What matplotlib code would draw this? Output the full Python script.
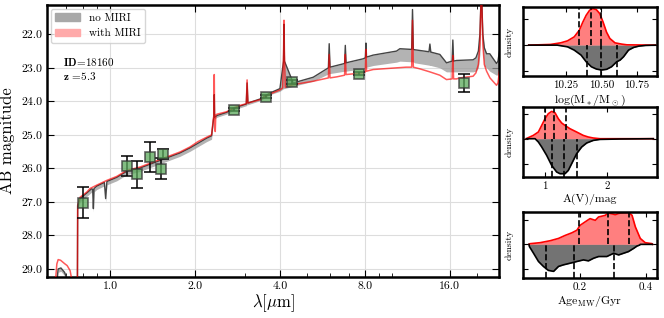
import numpy as np
import matplotlib
matplotlib.use("Agg")
import matplotlib.pyplot as plt
from matplotlib.patches import Patch
from matplotlib.ticker import (FixedLocator, FixedFormatter, FormatStrFormatter,
                               LogLocator, NullFormatter)

plt.rcParams["font.family"] = "serif"
plt.rcParams["font.serif"] = ["cmr10"]
plt.rcParams["mathtext.fontset"] = "cm"
plt.rcParams["axes.formatter.use_mathtext"] = True

# --- best-fit spectrum with MIRI (wavelength in micron, AB mag)
red_lam = [0.600, 0.640, 0.648, 0.655, 0.668, 0.690, 0.705, 0.722, 0.735, 0.766,
           0.768, 0.783, 0.829, 0.849, 0.897, 0.973, 1.056, 1.146, 1.277, 1.424,
           1.587, 1.770, 1.920, 2.050, 2.200, 2.290, 2.325, 2.335, 2.341, 2.347,
           2.360, 2.370, 2.400, 2.590, 2.730, 2.890, 3.040, 3.060, 3.080, 3.400,
           3.690, 4.000, 4.090, 4.120, 4.135, 4.150, 4.180, 4.460, 5.250, 5.940,
           5.980, 6.020, 6.350, 6.780, 6.820, 6.860, 7.890, 8.030, 8.070, 8.110,
           8.560, 10.36, 11.20, 11.72, 11.80, 11.88, 12.53, 13.59, 14.75, 15.57,
           16.30, 16.40, 16.50, 16.90, 17.36, 19.35, 19.80, 20.20, 20.45, 20.65,
           20.75, 20.95, 21.20, 21.60, 22.20, 23.42, 23.70, 24.00]
red_mag = [30.0, 29.4, 28.85, 28.72, 28.74, 28.84, 28.9, 29.05, 29.4, 30.0,
           27.1, 26.86, 26.7, 26.6, 26.5, 26.36, 26.24, 26.06, 25.96, 25.81,
           25.66, 25.51, 25.36, 25.2, 25.07, 25.0, 24.5, 24.42, 23.2, 24.42,
           24.9, 24.4, 24.38, 24.31, 24.2, 24.12, 24.07, 23.36, 24.05, 23.95,
           23.78, 23.66, 23.6, 22.6, 21.58, 22.6, 23.58, 23.5, 23.4, 23.3,
           22.6, 23.3, 23.27, 23.22, 22.6, 23.2, 23.15, 23.12, 22.45, 23.1,
           23.05, 23.0, 22.98, 22.98, 21.58, 22.98, 23.03, 23.12, 23.22, 23.35,
           23.33, 22.63, 23.33, 23.33, 23.3, 23.25, 23.15, 22.9, 22.3, 20.9,
           20.9, 22.3, 22.9, 23.1, 23.3, 23.52, 23.45, 23.1]

# --- best-fit spectrum without MIRI: median and fainter edge of the range
gray_lam = [0.600, 0.645, 0.655, 0.670, 0.690, 0.705, 0.722, 0.766, 0.768, 0.783,
            0.829, 0.860, 0.868, 0.873, 0.878, 0.897, 0.955, 0.965, 0.975, 1.056,
            1.146, 1.277, 1.424, 1.587, 1.770, 1.920, 2.200, 2.290, 2.325, 2.335,
            2.341, 2.347, 2.400, 2.590, 2.730, 2.890, 3.040, 3.060, 3.080, 3.400,
            3.690, 4.000, 4.120, 4.135, 4.150, 4.460, 5.250, 5.940, 5.980, 6.020,
            6.780, 6.820, 6.860, 7.890, 8.030, 8.070, 8.110, 8.560, 10.36, 10.64,
            11.72, 11.80, 11.88, 12.00, 13.50, 13.60, 13.70, 14.75, 15.57, 16.30,
            16.40, 16.50, 16.90, 19.35, 19.80, 20.20, 20.45, 20.65, 20.75, 20.95,
            21.20, 21.60, 22.17, 23.42, 23.70, 24.00]
gray_mag = [30.0, 29.5, 29.0, 28.97, 29.1, 29.3, 29.6, 30.0, 27.13, 26.9,
            26.73, 26.61, 26.62, 27.2, 26.6, 26.53, 26.42, 26.9, 26.39, 26.27,
            26.09, 25.99, 25.84, 25.69, 25.54, 25.39, 25.1, 25.03, 24.55, 24.47,
            23.8, 24.47, 24.42, 24.33, 24.22, 24.14, 24.08, 23.45, 24.05, 23.93,
            23.75, 23.62, 22.8, 21.7, 22.8, 23.45, 23.28, 23.0, 22.28, 22.98,
            22.87, 22.33, 22.85, 22.73, 22.7, 22.26, 22.68, 22.62, 22.5, 22.43,
            22.45, 21.26, 22.45, 22.46, 22.52, 22.29, 22.53, 22.6, 22.85, 22.8,
            22.17, 22.8, 22.78, 22.76, 22.7, 22.5, 22.0, 20.9, 20.9, 22.0,
            22.4, 22.58, 22.58, 22.87, 22.8, 22.5]
gray_lo = [30.0, 29.6, 29.1, 29.07, 29.2, 29.4, 29.7, 30.0, 27.23, 27.0,
           26.83, 26.71, 26.72, 27.3, 26.7, 26.63, 26.52, 27.0, 26.49, 26.37,
           26.19, 26.09, 25.94, 25.79, 25.64, 25.49, 25.2, 25.13, 24.6, 24.52,
           24.45, 24.52, 24.47, 24.38, 24.27, 24.19, 24.13, 24.1, 24.1, 23.98,
           23.8, 23.7, 23.62, 23.62, 23.62, 23.55, 23.4, 23.18, 23.17, 23.17,
           23.1, 23.1, 23.1, 23.02, 23.0, 23.0, 22.98, 22.93, 22.83, 22.8,
           22.82, 22.82, 22.82, 22.85, 22.92, 22.93, 22.93, 23.0, 23.12, 23.12,
           23.12, 23.12, 23.12, 23.12, 23.1, 23.0, 22.6, 21.5, 21.5, 22.6,
           22.95, 23.0, 23.1, 23.22, 23.2, 23.1]

# --- observed photometry
phot_lam = [0.80, 1.15, 1.25, 1.39, 1.51, 1.54, 2.76, 3.57, 4.42, 7.64, 18.0]
phot_mag = [27.02, 25.94, 26.18, 25.66, 26.01, 25.56, 24.25, 23.86, 23.42, 23.17, 23.45]
phot_err = [0.47, 0.30, 0.40, 0.46, 0.32, 0.15, 0.05, 0.05, 0.05, 0.05, 0.28]

x_ticks = [1.0, 2.0, 4.0, 8.0, 16.0]
x_ticklabels = ["1.0", "2.0", "4.0", "8.0", "16.0"]
y_ticks = [22.0, 23.0, 24.0, 25.0, 26.0, 27.0, 28.0, 29.0]

# --- posterior densities (red: with MIRI, up; gray: no MIRI, down)
mass_red_x = [9.99, 10.143, 10.214, 10.262, 10.309, 10.345, 10.369, 10.393, 10.417,
              10.44, 10.464, 10.488, 10.512, 10.536, 10.559, 10.595, 10.643, 10.679, 10.88]
mass_red_y = [0, 0.7, 2.3, 4.3, 8.3, 15, 23, 30, 35, 36.7, 35.7, 31.7, 23, 13, 6.7,
              2.3, 1, 0.3, 0]
mass_gray_x = [9.99, 10.19, 10.262, 10.309, 10.357, 10.393, 10.429, 10.464, 10.5, 10.536,
               10.571, 10.607, 10.631, 10.655, 10.69, 10.726, 10.762, 10.81, 10.88]
mass_gray_y = [0, 0, -1.7, -5, -10, -16.7, -21.7, -24, -25, -24.3, -21.7, -16.7, -15,
               -11.7, -5, -2.3, -1, -0.3, 0]
mass_red_q = [10.34, 10.43, 10.50]
mass_gray_q = [10.40, 10.50, 10.61]

av_red_x = [0.70, 0.73, 0.812, 0.893, 0.947, 1.0, 1.053, 1.107, 1.16, 1.214, 1.268,
            1.321, 1.401, 1.508, 1.615, 1.695, 1.775, 1.883, 2.74]
av_red_y = [0, 1.0, 3.3, 6.7, 13.3, 20, 25, 27.3, 26, 20, 15.7, 13.3, 10, 6.7, 3.3,
            1.7, 0.7, 0, 0]
av_gray_x = [0.70, 0.84, 0.893, 0.947, 1.027, 1.107, 1.187, 1.241, 1.321, 1.374, 1.428,
             1.508, 1.589, 1.669, 1.775, 1.883, 2.204, 2.74]
av_gray_y = [0, 0, -3.3, -8.3, -16.7, -26.7, -33.3, -35, -35, -31.7, -25, -15, -8.3,
             -4.3, -1.7, -0.7, -0.3, 0]
av_red_q = [1.0, 1.15, 1.34]
av_gray_q = [1.107, 1.31, 1.52]

age_red_x = [0.044, 0.048, 0.078, 0.109, 0.134, 0.154, 0.175, 0.190, 0.200, 0.215,
             0.230, 0.246, 0.256, 0.276, 0.286, 0.307, 0.322, 0.347, 0.358, 0.368,
             0.383, 0.398, 0.419, 0.420]
age_red_y = [0, 0.7, 1.7, 3.7, 6, 9, 11.7, 14.3, 19.3, 22.7, 26, 24.3, 27.7, 29.3,
             31.7, 30, 31.7, 32.3, 29.3, 17.7, 6, 1.7, 0.7, 0]
age_gray_x = [0.044, 0.0455, 0.058, 0.073, 0.088, 0.103, 0.119, 0.134, 0.149, 0.170,
              0.190, 0.210, 0.225, 0.241, 0.256, 0.281, 0.302, 0.317, 0.332, 0.347,
              0.363, 0.373, 0.381, 0.383, 0.420]
age_gray_y = [0, -2.3, -9, -17.3, -22.3, -26.3, -27.3, -22.3, -20.7, -19, -17.3, -15.7,
              -16.7, -14, -12.3, -12.3, -9, -10.7, -9, -7.3, -4, -1.7, -0.7, 0, 0]
age_red_q = [0.197, 0.284, 0.35]
age_gray_q = [0.095, 0.180, 0.304]


def style_spines(ax, lw=1.8):
    for s in ax.spines.values():
        s.set_linewidth(lw)


def density_panel(ax, xr, yr, xg, yg, qr, qg, xlim, ylim, xticks, xticklabels,
                  xlabel, yticks):
    ax.fill_between(xr, 0, yr, color="red", alpha=0.5, lw=0)
    ax.plot(xr, yr, color="red", lw=1.2)
    ax.fill_between(xg, 0, yg, color="black", alpha=0.55, lw=0)
    ax.plot(xg, yg, color="black", lw=1.2)
    ax.vlines(qr, 0, ylim[1], colors="black", linestyles="--", lw=1.2)
    ax.vlines(qg, ylim[0], 0, colors="black", linestyles="--", lw=1.2)
    ax.set_xlim(xlim)
    ax.set_ylim(ylim)
    ax.set_xticks(xticks)
    ax.set_xticklabels(xticklabels)
    ax.set_yticks(yticks)
    ax.set_yticklabels([])
    ax.set_xlabel(xlabel, fontsize=8.5, labelpad=2)
    ax.set_ylabel("density", fontsize=7, labelpad=4)
    ax.tick_params(direction="in", top=True, right=True, labelsize=8,
                   length=3.5, width=0.8, pad=3)
    style_spines(ax)


fig = plt.figure(figsize=(6.64, 3.18), dpi=100)

# main SED panel
ax = fig.add_axes([0.0708, 0.1289, 0.6807, 0.8554])
ax.fill_between(gray_lam, gray_mag, gray_lo, color="#9a9a9a", alpha=0.75, lw=0,
                zorder=2)
ax.plot(gray_lam, gray_mag, color="#444444", lw=1.0, zorder=2)
ax.plot(red_lam, red_mag, color="red", alpha=0.65, lw=1.1, zorder=3)
ax.errorbar(phot_lam, phot_mag, yerr=phot_err, fmt="none", ecolor="black",
            capsize=4, elinewidth=1.1, capthick=1.1, zorder=4)
ax.plot(phot_lam, phot_mag, "s", ms=7.5, mfc="#5aa85a", mec="#333333", mew=1.2,
        alpha=0.75, zorder=5)

ax.set_xscale("log")
ax.set_xlim(0.598, 23.9)
ax.set_ylim(29.24, 21.125)
ax.xaxis.set_major_locator(FixedLocator(x_ticks))
ax.xaxis.set_major_formatter(FixedFormatter(x_ticklabels))
ax.xaxis.set_minor_locator(LogLocator(base=10, subs=np.arange(1, 10)))
ax.xaxis.set_minor_formatter(NullFormatter())
ax.set_yticks(y_ticks)
ax.yaxis.set_major_formatter(FormatStrFormatter("%.1f"))
ax.tick_params(which="both", direction="in", top=True, right=True, labelsize=8.5)
ax.tick_params(which="major", length=5, width=0.8)
ax.tick_params(which="minor", length=3, width=0.6)
ax.grid(True, which="major", color="#dddddd", lw=0.8, zorder=0)
ax.set_axisbelow(True)
ax.set_xlabel(r"$\lambda[\mu$m$]$", fontsize=12, labelpad=1)
ax.set_ylabel("AB magnitude", fontsize=12, labelpad=4)
style_spines(ax)

handles = [Patch(color="#a8a8a8", label="no MIRI"),
           Patch(color="#ffaaaa", label="with MIRI")]
ax.legend(handles=handles, loc="upper left", fontsize=8, framealpha=0.8,
          borderaxespad=0.35, handlelength=2.2)
ax.text(0.035, 0.79, r"$\mathbf{ID\!=\!18160}$", transform=ax.transAxes,
        fontsize=8, va="center")
ax.text(0.035, 0.738, r"$\mathbf{z\ \!=\!5.3}$", transform=ax.transAxes,
        fontsize=8, va="center")

# posterior panels
ax1 = fig.add_axes([0.7877, 0.761, 0.2018, 0.217])
density_panel(ax1, mass_red_x, mass_red_y, mass_gray_x, mass_gray_y,
              mass_red_q, mass_gray_q, (9.95, 10.89), (-31, 38.3),
              [10.25, 10.5, 10.75], ["10.25", "10.50", "10.75"],
              r"log(M$_*$/M$_\odot$)", [-26, 0, 26])

ax2 = fig.add_axes([0.7877, 0.4434, 0.2018, 0.2201])
density_panel(ax2, av_red_x, av_red_y, av_gray_x, av_gray_y,
              av_red_q, av_gray_q, (0.647, 2.80), (-38.3, 31.7),
              [1, 2], ["1", "2"], "A(V)/mag", [-25, 0, 25])

ax3 = fig.add_axes([0.7877, 0.1258, 0.2018, 0.2075])
density_panel(ax3, age_red_x, age_red_y, age_gray_x, age_gray_y,
              age_red_q, age_gray_q, (0.026, 0.434), (-34, 32.7),
              [0.2, 0.4], ["0.2", "0.4"], r"Age$_{\rm MW}$/Gyr", [-25, 0, 25])

fig.savefig("out.png", dpi=100)
